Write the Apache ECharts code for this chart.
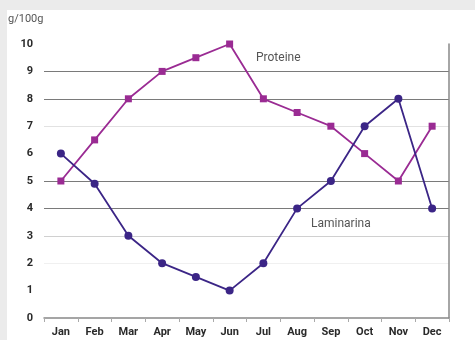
<!DOCTYPE html>
<html><head><meta charset="utf-8">
<script src="https://cdn.jsdelivr.net/npm/echarts@6/dist/echarts.min.js"></script>
<style>
html,body{margin:0;padding:0;background:#ebebeb;}
#panel{position:absolute;left:7px;top:10px;width:468px;height:330px;background:#fff;}
#chart{position:absolute;left:0;top:0;width:475px;height:340px;}
</style></head>
<body><div id="panel"></div><div id="chart"></div>
<script>
const months = ['Jan','Feb','Mar','Apr','May','Jun','Jul','Aug','Sep','Oct','Nov','Dec'];
const proteine = [5, 6.5, 8, 9, 9.5, 10, 8, 7.5, 7, 6, 5, 7];
const laminarina = [6, 4.9, 3, 2, 1.5, 1, 2, 4, 5, 7, 8, 4];
const yTicks = [0,1,2,3,4,5,6,7,8,9,10];

const chart = echarts.init(document.getElementById('chart'), null, {renderer:'canvas'});
const labelFont = {color:'#2a2a2a', fontWeight:'bold', fontSize:11, fontFamily:'Roboto, Liberation Sans, sans-serif'};
const annFont = {fill:'#555', fontSize:12, fontFamily:'Roboto, Liberation Sans, sans-serif'};
chart.setOption({
  animation:false,
  grid:{left:44, right:26, top:44, bottom:22},
  xAxis:{type:'category', data:months, boundaryGap:true,
    axisLine:{lineStyle:{color:'#888', width:1.5}},
    axisTick:{show:true, length:4, lineStyle:{color:'#aaa'}},
    axisLabel:Object.assign({margin:9}, labelFont),
    splitLine:{show:false}},
  yAxis:[{type:'value', min:yTicks[0], max:yTicks[yTicks.length-1], interval:1,
    axisLine:{show:false}, axisTick:{show:false},
    axisLabel:Object.assign({margin:11}, labelFont),
    splitLine:{show:true, lineStyle:{width:1.2, color:['rgba(0,0,0,0)','rgba(0,0,0,0)','#f0f0f0','#d0d0d0','#7a7a7a','#7a7a7a','rgba(0,0,0,0)','#e2e2e2','#7a7a7a','#7a7a7a','rgba(0,0,0,0)']}}},
    {type:'value', position:'right', min:0, max:10, interval:1,
    axisLine:{show:true, lineStyle:{color:'#888', width:1.5}}, axisTick:{show:false},
    axisLabel:{show:false}, splitLine:{show:false}}],
  series:[
    {name:'Proteine', type:'line', data:proteine, symbol:'rect', symbolSize:7,
     itemStyle:{color:'#9a2b93'}, lineStyle:{color:'#9a2b93', width:1.8}},
    {name:'Laminarina', type:'line', data:laminarina, symbol:'circle', symbolSize:8,
     itemStyle:{color:'#3b2586'}, lineStyle:{color:'#3b2586', width:1.8}}
  ],
  graphic:[
    {type:'text', left:8, top:14, style:Object.assign({text:'g/100g'}, annFont, {fontSize:11})},
    {type:'text', left:256, top:52, style:Object.assign({text:'Proteine'}, annFont)},
    {type:'text', left:311, top:218, style:Object.assign({text:'Laminarina'}, annFont)}
  ]
});
</script></body></html>
